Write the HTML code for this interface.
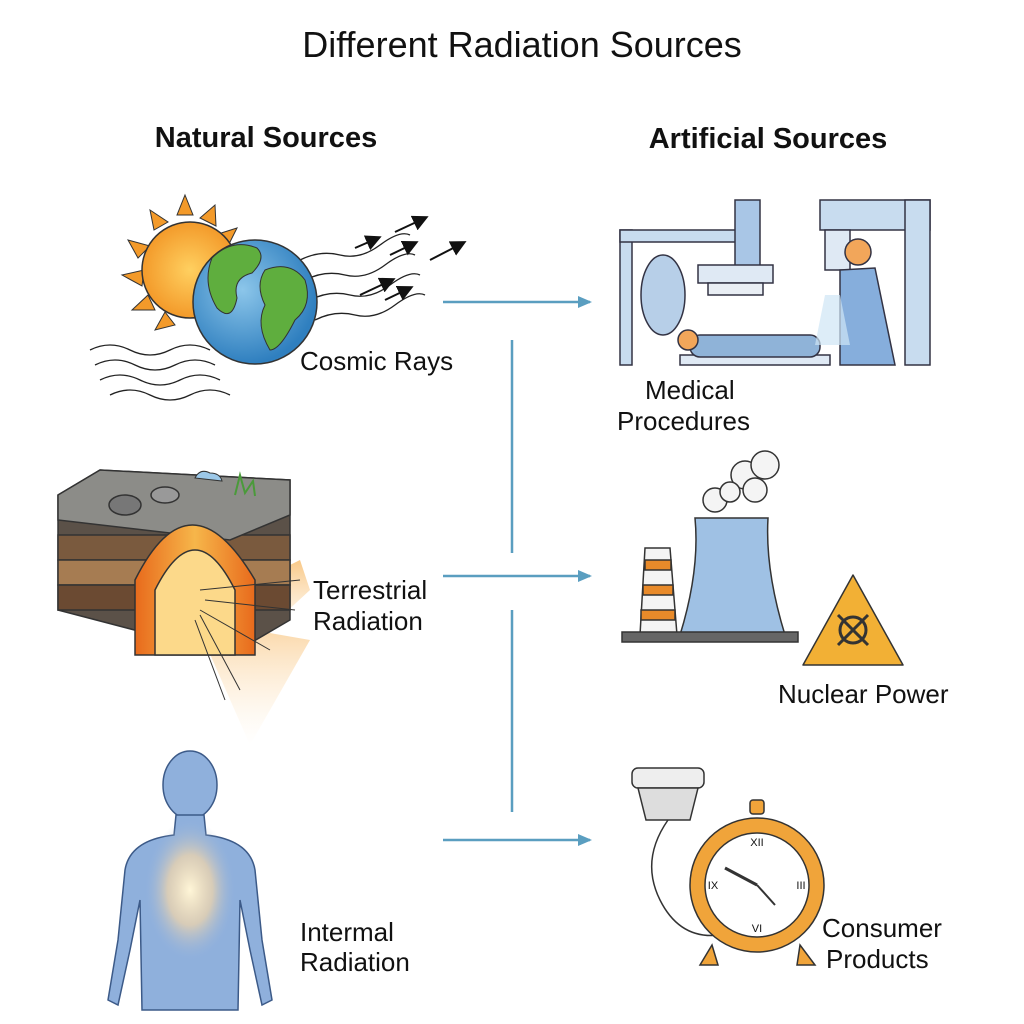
<!DOCTYPE html>
<html><head><meta charset="utf-8"><style>
html,body{margin:0;padding:0;background:#fff;}
svg{display:block;}
text{font-family:"Liberation Sans",sans-serif;fill:#111;}
</style></head><body>
<svg width="1024" height="1024" viewBox="0 0 1024 1024" xmlns="http://www.w3.org/2000/svg">
<defs>
<radialGradient id="sun" cx="50%" cy="50%" r="50%"><stop offset="0" stop-color="#ffd060"/><stop offset="1" stop-color="#f39a2a"/></radialGradient>
<radialGradient id="earth" cx="40%" cy="40%" r="60%"><stop offset="0" stop-color="#8cc6ea"/><stop offset="1" stop-color="#2f7fbf"/></radialGradient>
<radialGradient id="glow" cx="50%" cy="50%" r="50%"><stop offset="0" stop-color="#fff6d8"/><stop offset="0.5" stop-color="#f7d8a8" stop-opacity="0.7"/><stop offset="1" stop-color="#9cb7dd" stop-opacity="0"/></radialGradient>
<linearGradient id="beam" x1="0" y1="0" x2="0" y2="1"><stop offset="0" stop-color="#f8c27a" stop-opacity="0.9"/><stop offset="1" stop-color="#fde8c8" stop-opacity="0"/></linearGradient>
<linearGradient id="arch" x1="0" y1="0" x2="1" y2="0"><stop offset="0" stop-color="#e86a1c"/><stop offset="0.5" stop-color="#f6b64a"/><stop offset="1" stop-color="#e86a1c"/></linearGradient>
<marker id="ah" markerUnits="userSpaceOnUse" markerWidth="14" markerHeight="14" refX="12" refY="7" orient="auto"><path d="M0,1 L14,7 L0,13 z" fill="#5a9ec0"/></marker>
<marker id="bk" markerWidth="8" markerHeight="8" refX="6" refY="4" orient="auto"><path d="M0,0 L8,4 L0,8 z" fill="#111"/></marker>
</defs>

<text x="522" y="57" font-size="36" text-anchor="middle">Different Radiation Sources</text>
<text x="266" y="147" font-size="29" font-weight="bold" text-anchor="middle">Natural Sources</text>
<text x="768" y="148" font-size="29" font-weight="bold" text-anchor="middle">Artificial Sources</text>

<g stroke="#5a9ec0" stroke-width="2.5" fill="none">
<line x1="443" y1="302" x2="590" y2="302" marker-end="url(#ah)"/>
<line x1="443" y1="576" x2="590" y2="576" marker-end="url(#ah)"/>
<line x1="443" y1="840" x2="590" y2="840" marker-end="url(#ah)"/>
<line x1="512" y1="340" x2="512" y2="553"/>
<line x1="512" y1="610" x2="512" y2="812"/>
</g>

<g>
<g fill="#f39a2a" stroke="#333" stroke-width="1">
<polygon points="185,195 193,215 177,215"/>
<polygon points="215,205 216,226 200,218"/>
<polygon points="237,228 228,246 218,234"/>
<polygon points="150,210 168,222 154,230"/>
<polygon points="128,240 150,246 138,258"/>
<polygon points="122,275 144,270 142,286"/>
<polygon points="132,310 148,295 155,310"/>
<polygon points="155,330 165,312 175,325"/>
</g>
<circle cx="190" cy="270" r="48" fill="url(#sun)" stroke="#333" stroke-width="1.5"/>
</g>
<g stroke="#222" stroke-width="1.3" fill="none">
<path d="M90,350 q20,-10 40,0 t40,0 t40,0"/>
<path d="M95,365 q20,-10 40,0 t40,0 t40,0"/>
<path d="M100,380 q20,-10 40,0 t40,0 t40,0"/>
<path d="M110,395 q20,-10 40,0 t40,0 t40,0"/>
<path d="M300,260 q20,-10 40,-5 t40,-10 t30,-10"/>
<path d="M305,280 q20,-10 40,-5 t40,-10 t30,-10"/>
<path d="M310,300 q20,-10 40,-5 t40,-10 t30,-10"/>
<path d="M315,320 q20,-10 40,-5 t40,-10 t30,-10"/>
</g>
<circle cx="255" cy="302" r="62" fill="url(#earth)" stroke="#333" stroke-width="1.5"/>
<path d="M212,258 q20,-20 45,-10 q10,10 -5,25 q-20,5 -15,25 q-5,25 -20,10 q-15,-25 -5,-50z" fill="#5fae3e" stroke="#333"/>
<path d="M265,270 q25,-10 40,10 q8,25 -10,40 q-15,30 -25,30 q-15,-25 -5,-45 q-10,-20 0,-35z" fill="#5fae3e" stroke="#333"/>
<g stroke="#111" stroke-width="2" marker-end="url(#bk)">
<line x1="395" y1="232" x2="425" y2="218"/>
<line x1="355" y1="248" x2="378" y2="238"/>
<line x1="390" y1="255" x2="415" y2="243"/>
<line x1="430" y1="260" x2="463" y2="243"/>
<line x1="360" y1="295" x2="392" y2="280"/>
<line x1="385" y1="300" x2="410" y2="288"/>
</g>
<text x="300" y="370" font-size="26">Cosmic Rays</text>

<g stroke="#333" stroke-width="1.5">
<polygon points="220,600 245,650 310,590 300,560" fill="url(#beam)" stroke="none"/>
<polygon points="195,620 250,745 310,640" fill="url(#beam)" stroke="none" opacity="0.8"/>
<path d="M58,495 L100,470 L290,480 L290,620 L230,655 L58,610 Z" fill="#5b5148"/>
<rect x="58" y="535" width="232" height="25" fill="#7a5a3e"/>
<rect x="58" y="560" width="232" height="25" fill="#a67c52"/>
<rect x="58" y="585" width="232" height="25" fill="#6b4a32"/>
<path d="M58,495 L100,470 L290,480 L290,515 L230,540 L58,520 Z" fill="#8c8c88"/>
<path d="M135,655 L135,580 Q190,470 255,580 L255,655 Z" fill="url(#arch)"/>
<path d="M155,655 L155,590 Q195,510 235,590 L235,655 Z" fill="#fcd98a"/>
<ellipse cx="125" cy="505" rx="16" ry="10" fill="#777"/>
<ellipse cx="165" cy="495" rx="14" ry="8" fill="#999"/>
</g>
<g stroke="#333" stroke-width="1">
<line x1="200" y1="590" x2="300" y2="580"/><line x1="205" y1="600" x2="295" y2="610"/>
<line x1="200" y1="610" x2="270" y2="650"/><line x1="200" y1="615" x2="240" y2="690"/>
<line x1="195" y1="620" x2="225" y2="700"/>
</g>
<path d="M195,478 q5,-10 15,-5 q10,0 12,8 z" fill="#9cc8e8" stroke="#333"/>
<path d="M235,495 l5,-20 l5,18 l8,-12 l2,15" fill="none" stroke="#4a9a3a" stroke-width="2"/>
<text x="313" y="599" font-size="26">Terrestrial</text>
<text x="313" y="630" font-size="26">Radiation</text>

<g fill="#8fb0dc" stroke="#3c5a88" stroke-width="1.5">
<ellipse cx="190" cy="785" rx="27" ry="34"/>
<path d="M176,815 L204,815 L206,835 Q250,840 255,870 L262,940 L272,1000 L262,1005 L250,950 L240,900 L238,1010 L142,1010 L140,900 L130,950 L118,1005 L108,1000 L118,940 L125,870 Q130,840 174,835 Z"/>
</g>
<ellipse cx="190" cy="890" rx="45" ry="70" fill="url(#glow)"/>
<text x="300" y="941" font-size="26">Intermal</text>
<text x="300" y="971" font-size="26">Radiation</text>

<g stroke="#334" stroke-width="1.5" fill="#c8dcef">
<rect x="620" y="230" width="12" height="135"/>
<rect x="620" y="230" width="120" height="12"/>
<rect x="735" y="200" width="25" height="70" fill="#a9c6e6"/>
<rect x="698" y="265" width="75" height="18" fill="#dfe9f4"/>
<rect x="708" y="283" width="55" height="12" fill="#e9eef4"/>
<ellipse cx="663" cy="295" rx="22" ry="40" fill="#b7cfe8"/>
<rect x="820" y="200" width="110" height="30"/>
<rect x="905" y="200" width="25" height="165"/>
<rect x="825" y="230" width="25" height="40" fill="#dfe9f4"/>
<rect x="680" y="355" width="150" height="10" fill="#dfe9f4"/>
<rect x="690" y="335" width="130" height="22" rx="10" fill="#8fb3d8"/>
<circle cx="688" cy="340" r="10" fill="#f2a65a"/>
<circle cx="858" cy="252" r="13" fill="#f2a65a"/>
<path d="M840,270 L875,268 L895,365 L840,365 Z" fill="#86aedc"/>
</g>
<polygon points="825,295 840,295 850,345 815,345" fill="#cfe6f5" opacity="0.7"/>
<text x="645" y="399" font-size="26">Medical</text>
<text x="617" y="430" font-size="26">Procedures</text>

<g stroke="#333" stroke-width="1.5">
<g fill="#f4f4f4"><circle cx="745" cy="475" r="14"/><circle cx="765" cy="465" r="14"/><circle cx="755" cy="490" r="12"/><circle cx="715" cy="500" r="12"/><circle cx="730" cy="492" r="10"/></g>
<path d="M695,518 L768,518 Q765,570 785,635 L680,635 Q700,570 695,518 Z" fill="#9fc1e4"/>
<path d="M645,548 L670,548 L677,635 L640,635 Z" fill="#f4f4f4"/>
<rect x="645" y="560" width="26" height="10" fill="#e88a2a"/>
<rect x="643" y="585" width="30" height="10" fill="#e88a2a"/>
<rect x="641" y="610" width="34" height="10" fill="#e88a2a"/>
<rect x="622" y="632" width="176" height="10" fill="#666"/>
<polygon points="853,575 903,665 803,665" fill="#f2b035" stroke-linejoin="round"/>
<circle cx="853" cy="630" r="13" fill="none" stroke-width="3"/>
<line x1="838" y1="615" x2="868" y2="645" stroke-width="3"/><line x1="868" y1="615" x2="838" y2="645" stroke-width="3"/>
</g>
<text x="778" y="703" font-size="26">Nuclear Power</text>

<g stroke="#333" stroke-width="1.5">
<rect x="632" y="768" width="72" height="20" rx="6" fill="#eee"/>
<path d="M638,788 L698,788 L690,820 L646,820 Z" fill="#ddd"/>
<path d="M668,820 Q640,860 660,900 Q680,940 720,935" fill="none"/>
<path d="M712,945 L700,965 L718,965 Z M800,945 L815,965 L797,965 Z" fill="#f0a43a"/>
<rect x="750" y="800" width="14" height="14" rx="3" fill="#f0a43a"/>
<circle cx="757" cy="885" r="67" fill="#f0a43a"/>
<circle cx="757" cy="885" r="52" fill="#fff"/>
<line x1="757" y1="885" x2="725" y2="868" stroke-width="3"/>
<line x1="757" y1="885" x2="775" y2="905" stroke-width="2"/>
</g>
<g font-size="11" text-anchor="middle" font-family="Liberation Serif"><text x="757" y="846">XII</text><text x="757" y="932">VI</text><text x="713" y="889">IX</text><text x="801" y="889">III</text></g>
<text x="822" y="937" font-size="26">Consumer</text>
<text x="826" y="968" font-size="26">Products</text>
</svg>
</body></html>
